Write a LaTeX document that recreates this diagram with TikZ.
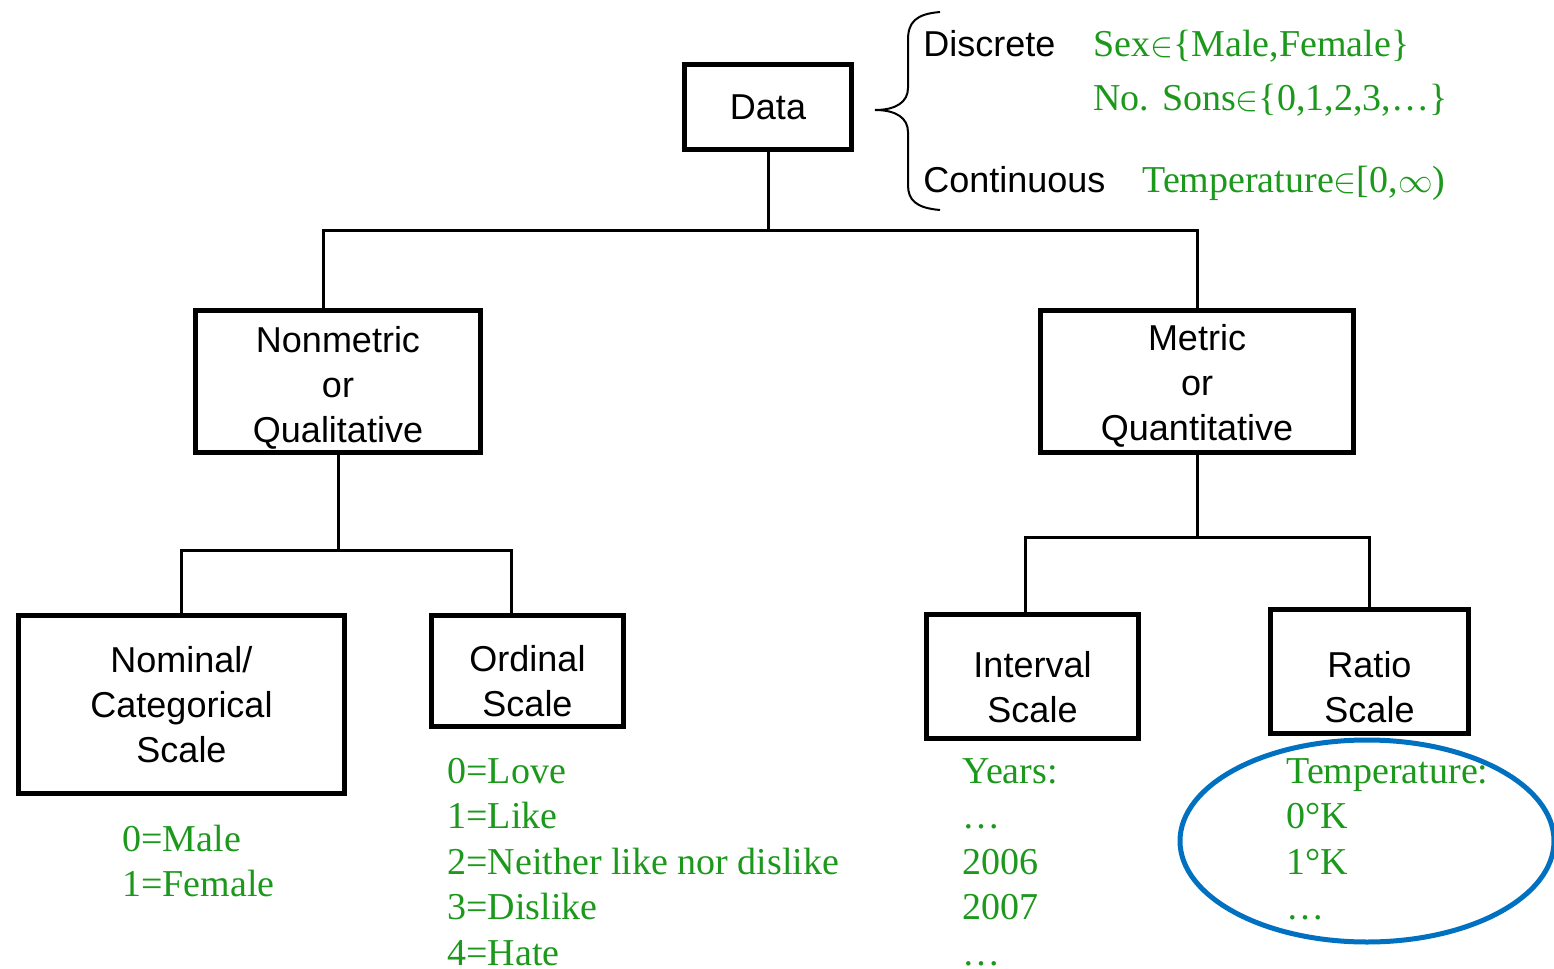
\documentclass[tikz,border=0pt]{standalone}
\usepackage{fontspec}
\setmainfont{Liberation Serif}
\setsansfont{Liberation Sans}
\usepackage{xcolor}
\usepackage{tikz}
\usetikzlibrary{positioning,calc}
\definecolor{Leaf}{HTML}{1C991C}
\definecolor{Ring}{HTML}{0070C0}
\newcommand{\padtop}[1]{\rule{0pt}{#1}}

\begin{document}
\begin{tikzpicture}[x=0.5pt, y=-0.5pt, box/.style={draw,line width=2.5pt,align=center,inner sep=0pt,font=\sffamily\fontsize{18}{22.5}\selectfont}, lbl/.style={anchor=base west,inner sep=0pt,font=\sffamily\fontsize{18}{22.5}\selectfont}, val/.style={anchor=base west,inner sep=0pt,text=Leaf,font=\fontsize{19}{22.75}\selectfont}, link/.style={line width=1.5pt}]
\useasboundingbox (0,0) rectangle (1554,969);
% boxes
\node[box,minimum width=83.5pt,minimum height=42.5pt] (data) at (768,107) {Data};
\node[box,minimum width=142.5pt,minimum height=71pt] (nonmetric) at (338,381.5) {\padtop{19pt}Nonmetric\\or\\Qualitative};
\node[box,minimum width=156.5pt,minimum height=71pt] (metric) at (1197,381.5) {\padtop{17pt}Metric\\or\\Quantitative};
\node[box,minimum width=163pt,minimum height=89pt] (nominal) at (181.5,704.5) {Nominal/\\Categorical\\Scale};
\node[box,minimum width=96pt,minimum height=55.5pt] (ordinal) at (527.5,671) {\padtop{23pt}Ordinal\\Scale};
\node[box,minimum width=106pt,minimum height=62pt] (interval) at (1032.5,676.5) {\padtop{24pt}Interval\\Scale};
\node[box,minimum width=99pt,minimum height=62pt] (ratio) at (1369.5,671.5) {\padtop{29pt}Ratio\\Scale};
% tree lines
\coordinate (lj) at (323,230); \coordinate (rj) at (1197,230);
\coordinate (ordj) at (511,550); \coordinate (intj) at (1025,537);
\draw[link] (data.south) -- (data.south |- lj);
\draw[link] (nonmetric.north -| lj) -- (lj) -- (rj) -- (metric.north -| rj);
\draw[link] (nonmetric.south) -- (nonmetric.south |- ordj);
\draw[link] (nominal.north) |- (ordj) -- (ordinal.north -| ordj);
\draw[link] (metric.south) -- (metric.south |- intj);
\draw[link] (interval.north -| intj) -- (intj) -| (ratio.north);
% brace and data kinds
\coordinate (tip) at (875,110);
\draw[line width=1pt] (940,12) .. controls (916,14) and (908,22) .. (908,40) -- (908,88) .. controls (908,102) and (896,110) .. (tip) .. controls (896,110) and (908,118) .. (908,132) -- (908,185) .. controls (908,200) and (916,208) .. (940,210);
\node[lbl] (discrete) at (923,56) {Discrete};
\node[lbl] (continuous) at (923,192) {Continuous};
\node[val] (sex) at (1093,56) {Sex$\in$\{Male,Female\}};
\node[val] (sons) at (1093,110) {No. Sons$\in$\{0,1,2,3,\ldots\}};
\node[val] (temp) at (1142,192) {Temperature$\in$[0,$\infty$)};
% examples
\foreach \t [count=\i] in {0=Male,1=Female}
  \node[val] (nom\i) at (122,851+45*\i-45) {\t};
\foreach \t [count=\i] in {0=Love,1=Like,2=Neither like nor dislike,3=Dislike,4=Hate}
  \node[val] (ord\i) at (447,783+45.5*\i-45.5) {\t};
\foreach \t [count=\i] in {Years:,\ldots,2006,2007,\ldots}
  \node[val] (int\i) at (962,783+45.5*\i-45.5) {\t};
\foreach \t [count=\i] in {Temperature:,0°K,1°K,\ldots}
  \node[val] (rat\i) at (1286,783+45.5*\i-45.5) {\t};
\draw[Ring,line width=2.5pt] (1367,841) ellipse [x radius=187,y radius=101];
\end{tikzpicture}
\end{document}
